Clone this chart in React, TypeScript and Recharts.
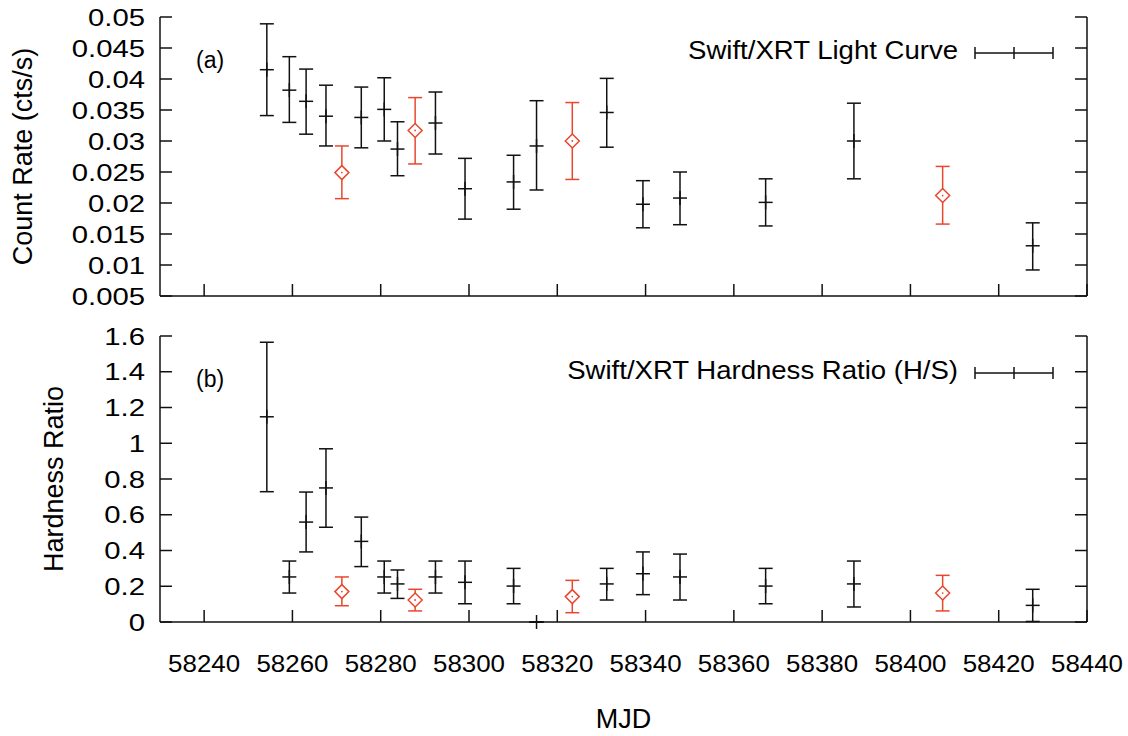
import React from 'react';
import { ScatterChart, Scatter, XAxis, YAxis, ErrorBar, Legend } from 'recharts';

// ---------- data ----------
const mjd = [
  58254.2, 58259.3, 58263.1, 58267.6, 58271.2, 58275.6, 58280.8, 58283.8, 58287.8, 58292.4,
  58299.1, 58310.1, 58315.3, 58323.4, 58331.2, 58339.4, 58347.8, 58367.2, 58387.2, 58407.3, 58427.7,
];
// observations drawn as red open diamonds
const flagged = [
  false, false, false, false, true, false, false, false, true, false,
  false, false, false, true, false, false, false, false, false, true, false,
];

const countRate = [
  0.0415, 0.0382, 0.0364, 0.034, 0.0249, 0.0338, 0.0351, 0.0287, 0.0317, 0.0329,
  0.0223, 0.0234, 0.0292, 0.03, 0.0346, 0.0198, 0.0208, 0.0201, 0.03, 0.0212, 0.0131,
];
const countRateLow = [
  0.0341, 0.033, 0.0311, 0.0292, 0.0207, 0.0289, 0.03, 0.0244, 0.0263, 0.0279,
  0.0174, 0.019, 0.0221, 0.0238, 0.029, 0.016, 0.0165, 0.0163, 0.0239, 0.0166, 0.0092,
];
const countRateHigh = [
  0.0489, 0.0436, 0.0416, 0.039, 0.0292, 0.0387, 0.0402, 0.0331, 0.037, 0.0379,
  0.0272, 0.0277, 0.0365, 0.0362, 0.0401, 0.0236, 0.025, 0.0239, 0.0361, 0.0259, 0.0168,
];

const hardness = [
  1.148, 0.252, 0.559, 0.75, 0.17, 0.451, 0.252, 0.213, 0.123, 0.252,
  0.222, 0.201, 0.0, 0.142, 0.213, 0.27, 0.252, 0.201, 0.213, 0.162, 0.093,
];
const hardnessLow = [
  0.729, 0.162, 0.392, 0.53, 0.091, 0.31, 0.162, 0.132, 0.062, 0.162,
  0.102, 0.102, 0.0, 0.052, 0.123, 0.153, 0.123, 0.102, 0.084, 0.062, 0.003,
];
const hardnessHigh = [
  1.565, 0.341, 0.727, 0.969, 0.252, 0.587, 0.341, 0.291, 0.183, 0.341,
  0.341, 0.3, 0.0, 0.233, 0.3, 0.392, 0.38, 0.3, 0.341, 0.261, 0.183,
];

const mjdTicks = [58240, 58260, 58280, 58300, 58320, 58340, 58360, 58380, 58400, 58420, 58440];
const mjdTickLabels = ['58240', '58260', '58280', '58300', '58320', '58340', '58360', '58380', '58400', '58420', '58440'];
const rateTicks = [0.005, 0.01, 0.015, 0.02, 0.025, 0.03, 0.035, 0.04, 0.045, 0.05];
const rateTickLabels = ['0.005', '0.01', '0.015', '0.02', '0.025', '0.03', '0.035', '0.04', '0.045', '0.05'];
const hrTicks = [0, 0.2, 0.4, 0.6, 0.8, 1, 1.2, 1.4, 1.6];
const hrTickLabels = ['0', '0.2', '0.4', '0.6', '0.8', '1', '1.2', '1.4', '1.6'];

// ---------- styles ----------
const INK = '#111111';
const RED = '#e8472e';
const LW = 1.5;
const TICK_LEN = 12;
const FONT = "'Liberation Sans', Arial, Helvetica, sans-serif";

type Pt = { x: number; y: number; err: [number, number] };

function buildSeries(vals: number[], lo: number[], hi: number[], red: boolean): Pt[] {
  const out: Pt[] = [];
  for (let i = 0; i < mjd.length; i++) {
    if (flagged[i] !== red) continue;
    out.push({ x: mjd[i], y: vals[i], err: [vals[i] - lo[i], hi[i] - vals[i]] });
  }
  return out;
}

const rateBlack = buildSeries(countRate, countRateLow, countRateHigh, false);
const rateRed = buildSeries(countRate, countRateLow, countRateHigh, true);
const hrBlack = buildSeries(hardness, hardnessLow, hardnessHigh, false);
const hrRed = buildSeries(hardness, hardnessLow, hardnessHigh, true);
const axisOnly = mjd.map((m, i) => ({ x: m, y: countRate[i] }));
const axisOnlyHr = mjd.map((m, i) => ({ x: m, y: hardness[i] }));

const labelFor = (ticks: number[], labels: string[], v: number) => {
  const i = ticks.indexOf(v);
  return i >= 0 ? labels[i] : String(v);
};

// ---------- shapes ----------
const PlusShape = (p: any) => {
  const { cx, cy } = p;
  return (
    <g>
      <line x1={cx - 7} x2={cx + 7} y1={cy} y2={cy} stroke={INK} strokeWidth={LW} />
      <line x1={cx} x2={cx} y1={cy - 7} y2={cy + 7} stroke={INK} strokeWidth={LW} />
    </g>
  );
};

const DiamondShape = (p: any) => {
  const { cx, cy } = p;
  const r = 7;
  return (
    <g>
      <path
        d={`M${cx},${cy - r}L${cx + r},${cy}L${cx},${cy + r}L${cx - r},${cy}Z`}
        fill="#ffffff"
        stroke={RED}
        strokeWidth={LW}
      />
      <circle cx={cx} cy={cy} r={0.9} fill={RED} />
    </g>
  );
};

const NoShape = () => <g />;

// ---------- ticks ----------
const makeLeftTick = (ticks: number[], labels: string[]) => (p: any) => {
  const { x, y, payload } = p;
  return (
    <g>
      <line x1={x} x2={x + TICK_LEN} y1={y} y2={y} stroke={INK} strokeWidth={LW} />
      <text
        transform={`translate(${x - 15},${y + 8.5}) scale(1.22,1)`}
        textAnchor="end"
        fontSize={24}
        fill="#000"
        fontFamily={FONT}
      >
        {labelFor(ticks, labels, payload.value)}
      </text>
    </g>
  );
};

const RightTick = (p: any) => {
  const { x, y } = p;
  return <line x1={x - TICK_LEN} x2={x} y1={y} y2={y} stroke={INK} strokeWidth={LW} />;
};

const TopTick = (p: any) => {
  const { x, y } = p;
  return <line x1={x} x2={x} y1={y} y2={y + TICK_LEN} stroke={INK} strokeWidth={LW} />;
};

const makeBottomTick = (withLabel: boolean) => (p: any) => {
  const { x, y, payload } = p;
  return (
    <g>
      <line x1={x} x2={x} y1={y - TICK_LEN} y2={y} stroke={INK} strokeWidth={LW} />
      {withLabel && (
        <text
          transform={`translate(${x},${y + 50}) scale(1.08,1)`}
          textAnchor="middle"
          fontSize={24}
          fill="#000"
          fontFamily={FONT}
        >
          {labelFor(mjdTicks, mjdTickLabels, payload.value)}
        </text>
      )}
    </g>
  );
};

// ---------- legend / panel tag ----------
const makeLegend = (text: string, tag: string, textY: number, symY: number, tagY: number) => () => (
  <svg width={1128} height={100} style={{ overflow: 'visible', display: 'block' }}>
    <text x={196} y={tagY} fontSize={23} fill="#000" fontFamily={FONT}>
      {tag}
    </text>
    <text
      transform={`translate(958,${textY}) scale(1.04,1)`}
      textAnchor="end"
      fontSize={26.5}
      fill="#000"
      fontFamily={FONT}
    >
      {text}
    </text>
    <line x1={975} x2={1053} y1={symY} y2={symY} stroke={INK} strokeWidth={LW} />
    <line x1={975} x2={975} y1={symY - 6} y2={symY + 6} stroke={INK} strokeWidth={LW} />
    <line x1={1053} x2={1053} y1={symY - 6} y2={symY + 6} stroke={INK} strokeWidth={LW} />
    <line x1={1014} x2={1014} y1={symY - 6} y2={symY + 6} stroke={INK} strokeWidth={LW} />
  </svg>
);

const axisLine = { stroke: INK, strokeWidth: LW };
const titleStyle = { fontSize: 27, fill: '#000', fontFamily: FONT, textAnchor: 'middle' as const };

type PanelProps = {
  height: number;
  marginTop: number;
  bottomAxisHeight: number;
  showXLabels: boolean;
  yDomain: [number, number];
  yTicks: number[];
  yLabels: string[];
  yTitle: string;
  yTitleOffset: number;
  black: Pt[];
  red: Pt[];
  ghost: { x: number; y: number }[];
  legend: () => React.ReactElement;
};

function Panel(props: PanelProps) {
  const p = props;
  return (
    <ScatterChart
      width={1128}
      height={p.height}
      margin={{ top: p.marginTop, right: 0, bottom: 0, left: 0 }}
    >
      <XAxis
        xAxisId="b"
        type="number"
        dataKey="x"
        orientation="bottom"
        domain={[58230, 58440]}
        ticks={mjdTicks}
        interval={0}
        height={p.bottomAxisHeight}
        tickSize={0}
        tickMargin={0}
        tickLine={false}
        axisLine={axisLine}
        tick={makeBottomTick(p.showXLabels)}
        label={
          p.showXLabels
            ? { value: 'MJD', position: 'insideBottom', offset: 8, style: { fontSize: 27, fill: '#000', fontFamily: FONT } }
            : undefined
        }
      />
      <XAxis
        xAxisId="t"
        type="number"
        dataKey="x"
        orientation="top"
        domain={[58230, 58440]}
        ticks={mjdTicks}
        interval={0}
        height={0}
        tickSize={0}
        tickMargin={0}
        tickLine={false}
        axisLine={axisLine}
        tick={TopTick}
      />
      <YAxis
        yAxisId="l"
        type="number"
        dataKey="y"
        orientation="left"
        domain={p.yDomain}
        ticks={p.yTicks}
        interval={0}
        width={160}
        tickSize={0}
        tickMargin={0}
        tickLine={false}
        axisLine={axisLine}
        tick={makeLeftTick(p.yTicks, p.yLabels)}
        label={{ value: p.yTitle, angle: -90, position: 'insideLeft', offset: p.yTitleOffset, style: titleStyle }}
      />
      <YAxis
        yAxisId="r"
        type="number"
        dataKey="y"
        orientation="right"
        domain={p.yDomain}
        ticks={p.yTicks}
        interval={0}
        width={41}
        tickSize={0}
        tickMargin={0}
        tickLine={false}
        axisLine={axisLine}
        tick={RightTick}
      />
      <Legend
        layout="horizontal"
        verticalAlign="middle"
        align="center"
        content={p.legend}
        wrapperStyle={{ position: 'absolute', left: 0, top: 0, width: 1128, height: 100, margin: 0, padding: 0 }}
      />
      <Scatter
        name="ghost"
        xAxisId="t"
        yAxisId="r"
        data={p.ghost}
        shape={NoShape}
        legendType="none"
        isAnimationActive={false}
      />
      <Scatter name="black" xAxisId="b" yAxisId="l" data={p.black} shape={PlusShape} isAnimationActive={false}>
        <ErrorBar dataKey="err" direction="y" width={7} stroke={INK} strokeWidth={LW} isAnimationActive={false} />
      </Scatter>
      <Scatter name="red" xAxisId="b" yAxisId="l" data={p.red} shape={DiamondShape} isAnimationActive={false}>
        <ErrorBar dataKey="err" direction="y" width={7} stroke={RED} strokeWidth={LW} isAnimationActive={false} />
      </Scatter>
    </ScatterChart>
  );
}

export default function App() {
  return (
    <div
      style={{
        position: 'absolute',
        left: 0,
        top: 0,
        width: 1128,
        height: 736,
        background: '#ffffff',
        fontFamily: FONT,
        overflow: 'hidden',
      }}
    >
      <div style={{ position: 'absolute', left: 0, top: 0 }}>
        <Panel
          height={316}
          marginTop={17}
          bottomAxisHeight={20}
          showXLabels={false}
          yDomain={[0.005, 0.05]}
          yTicks={rateTicks}
          yLabels={rateTickLabels}
          yTitle="Count Rate (cts/s)"
          yTitleOffset={22}
          black={rateBlack}
          red={rateRed}
          ghost={axisOnly}
          legend={makeLegend('Swift/XRT Light Curve', '(a)', 59, 53, 68)}
        />
      </div>
      <div style={{ position: 'absolute', left: 0, top: 316 }}>
        <Panel
          height={420}
          marginTop={20}
          bottomAxisHeight={114}
          showXLabels={true}
          yDomain={[0, 1.6]}
          yTicks={hrTicks}
          yLabels={hrTickLabels}
          yTitle="Hardness Ratio"
          yTitleOffset={53}
          black={hrBlack}
          red={hrRed}
          ghost={axisOnlyHr}
          legend={makeLegend('Swift/XRT Hardness Ratio (H/S)', '(b)', 63, 57, 71)}
        />
      </div>
    </div>
  );
}
